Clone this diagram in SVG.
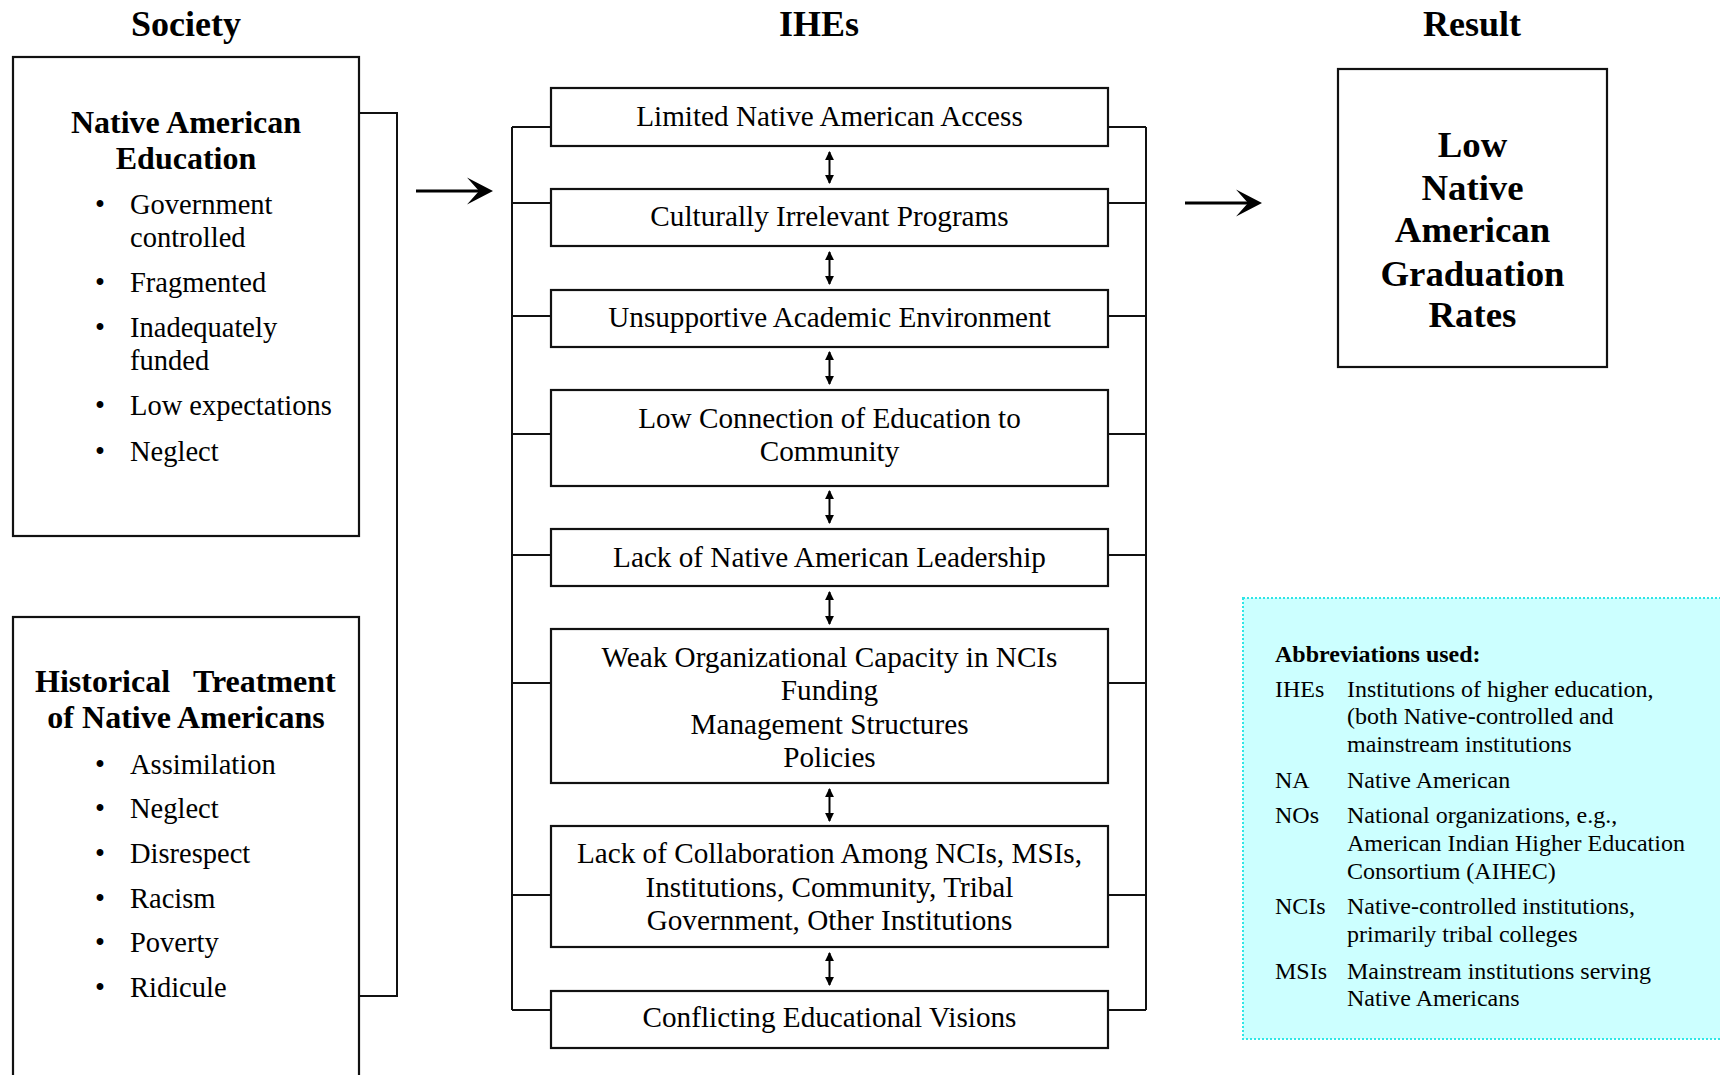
<svg xmlns="http://www.w3.org/2000/svg" width="1720" height="1075" viewBox="0 0 1720 1075">
<defs>
<style>
text{font-family:"Liberation Serif","Times New Roman",serif;fill:#000}
.title{font-size:36px;font-weight:bold;text-anchor:middle}
.hd{font-size:32px;font-weight:bold;text-anchor:middle}
.it{font-size:28.5px}
.bul{font-size:28.5px;text-anchor:middle}
.ct{font-size:29.2px;text-anchor:middle}
.res{font-size:36.8px;font-weight:bold;text-anchor:middle}
.ab{font-size:24px}
.abh{font-size:24px;font-weight:bold}
.box{fill:#fff;stroke:#111;stroke-width:2.2}
.ln{fill:none;stroke:#111;stroke-width:2}
.big{stroke:#000;stroke-width:3}
.dbl{stroke:#000;stroke-width:2}
</style>
<marker id="ah" viewBox="0 0 10 10" refX="9" refY="5" markerWidth="9" markerHeight="9" markerUnits="userSpaceOnUse" orient="auto-start-reverse">
<path d="M0,0 L10,5 L0,10 Z" fill="#000"/>
</marker>
</defs>
<rect width="1720" height="1075" fill="#fff"/>

<text class="title" x="186" y="36">Society</text>
<text class="title" x="819" y="36">IHEs</text>
<text class="title" x="1472" y="36">Result</text>

<g id="connectors">
<polyline class="ln" points="359,113 397,113 397,996 359,996"/>
<path class="ln" d="M512,127 V1010 M512,127 H551 M512,203 H551 M512,316 H551 M512,434 H551 M512,555 H551 M512,683 H551 M512,895 H551 M512,1010 H551"/>
<path class="ln" d="M1146,127 V1010 M1108,127 H1146 M1108,203 H1146 M1108,316 H1146 M1108,434 H1146 M1108,555 H1146 M1108,683 H1146 M1108,895 H1146 M1108,1010 H1146"/>
<line class="big" x1="416" y1="191" x2="482" y2="191"/>
<path d="M493,191 L467,177.5 L479,191 L467,204.5 Z" fill="#000"/>
<line class="big" x1="1185" y1="203" x2="1251" y2="203"/>
<path d="M1262,203 L1236,189.5 L1248,203 L1236,216.5 Z" fill="#000"/>
<line class="dbl" x1="829.5" y1="152" x2="829.5" y2="183" marker-start="url(#ah)" marker-end="url(#ah)"/>
<line class="dbl" x1="829.5" y1="252" x2="829.5" y2="284" marker-start="url(#ah)" marker-end="url(#ah)"/>
<line class="dbl" x1="829.5" y1="352" x2="829.5" y2="384" marker-start="url(#ah)" marker-end="url(#ah)"/>
<line class="dbl" x1="829.5" y1="491" x2="829.5" y2="523" marker-start="url(#ah)" marker-end="url(#ah)"/>
<line class="dbl" x1="829.5" y1="592" x2="829.5" y2="624" marker-start="url(#ah)" marker-end="url(#ah)"/>
<line class="dbl" x1="829.5" y1="789" x2="829.5" y2="821" marker-start="url(#ah)" marker-end="url(#ah)"/>
<line class="dbl" x1="829.5" y1="953" x2="829.5" y2="985" marker-start="url(#ah)" marker-end="url(#ah)"/>
</g>

<g id="native-american-education">
<rect class="box" x="13" y="57" width="346" height="479"/>
<text class="hd" x="186" y="133">Native American</text>
<text class="hd" x="186" y="169">Education</text>
<text class="bul" x="100" y="214">•</text><text class="it" x="130" y="214">Government</text>
<text class="it" x="130" y="247">controlled</text>
<text class="bul" x="100" y="292">•</text><text class="it" x="130" y="292">Fragmented</text>
<text class="bul" x="100" y="337">•</text><text class="it" x="130" y="337">Inadequately</text>
<text class="it" x="130" y="370">funded</text>
<text class="bul" x="100" y="415">•</text><text class="it" x="130" y="415">Low expectations</text>
<text class="bul" x="100" y="461">•</text><text class="it" x="130" y="461">Neglect</text>
</g>

<g id="historical-treatment">
<rect class="box" x="13" y="617" width="346" height="480"/>
<text class="hd" style="text-anchor:start" y="692"><tspan x="35">Historical</tspan><tspan x="193">Treatment</tspan></text>
<text class="hd" x="186" y="728">of Native Americans</text>
<text class="bul" x="100" y="774">•</text><text class="it" x="130" y="774">Assimilation</text>
<text class="bul" x="100" y="818">•</text><text class="it" x="130" y="818">Neglect</text>
<text class="bul" x="100" y="863">•</text><text class="it" x="130" y="863">Disrespect</text>
<text class="bul" x="100" y="908">•</text><text class="it" x="130" y="908">Racism</text>
<text class="bul" x="100" y="952">•</text><text class="it" x="130" y="952">Poverty</text>
<text class="bul" x="100" y="997">•</text><text class="it" x="130" y="997">Ridicule</text>
</g>

<g id="limited-access">
<rect class="box" x="551" y="88" width="557" height="58"/>
<text class="ct" x="829.5" y="126">Limited Native American Access</text>
</g>
<g id="culturally-irrelevant">
<rect class="box" x="551" y="189" width="557" height="57"/>
<text class="ct" x="829.5" y="226">Culturally Irrelevant Programs</text>
</g>
<g id="unsupportive">
<rect class="box" x="551" y="290" width="557" height="57"/>
<text class="ct" x="829.5" y="327">Unsupportive Academic Environment</text>
</g>
<g id="low-connection">
<rect class="box" x="551" y="390" width="557" height="96"/>
<text class="ct" x="829.5" y="428">Low Connection of Education to</text>
<text class="ct" x="829.5" y="461">Community</text>
</g>
<g id="leadership">
<rect class="box" x="551" y="529" width="557" height="57"/>
<text class="ct" x="829.5" y="567">Lack of Native American Leadership</text>
</g>
<g id="weak-capacity">
<rect class="box" x="551" y="629" width="557" height="154"/>
<text class="ct" x="829.5" y="667">Weak Organizational Capacity in NCIs</text>
<text class="ct" x="829.5" y="700">Funding</text>
<text class="ct" x="829.5" y="734">Management Structures</text>
<text class="ct" x="829.5" y="767">Policies</text>
</g>
<g id="collaboration">
<rect class="box" x="551" y="826" width="557" height="121"/>
<text class="ct" x="829.5" y="863">Lack of Collaboration Among NCIs, MSIs,</text>
<text class="ct" x="829.5" y="897">Institutions, Community, Tribal</text>
<text class="ct" x="829.5" y="930">Government, Other Institutions</text>
</g>
<g id="conflicting">
<rect class="box" x="551" y="991" width="557" height="57"/>
<text class="ct" x="829.5" y="1027">Conflicting Educational Visions</text>
</g>

<g id="result">
<rect class="box" x="1338" y="69" width="269" height="298"/>
<text class="res" x="1472.5" y="157">Low</text>
<text class="res" x="1472.5" y="200">Native</text>
<text class="res" x="1472.5" y="242">American</text>
<text class="res" x="1472.5" y="286">Graduation</text>
<text class="res" x="1472.5" y="327">Rates</text>
</g>

<g id="abbreviations">
<rect x="1243" y="598" width="490" height="441" fill="#ccffff" stroke="#2ee6e6" stroke-width="2" stroke-dasharray="2 2"/>
<text class="abh" x="1275" y="662">Abbreviations used:</text>
<text class="ab" x="1275" y="697">IHEs</text><text class="ab" x="1347" y="697">Institutions of higher education,</text>
<text class="ab" x="1347" y="724">(both Native-controlled and</text>
<text class="ab" x="1347" y="752">mainstream institutions</text>
<text class="ab" x="1275" y="788">NA</text><text class="ab" x="1347" y="788">Native American</text>
<text class="ab" x="1275" y="823">NOs</text><text class="ab" x="1347" y="823">National organizations, e.g.,</text>
<text class="ab" x="1347" y="851">American Indian Higher Education</text>
<text class="ab" x="1347" y="879">Consortium (AIHEC)</text>
<text class="ab" x="1275" y="914">NCIs</text><text class="ab" x="1347" y="914">Native-controlled institutions,</text>
<text class="ab" x="1347" y="942">primarily tribal colleges</text>
<text class="ab" x="1275" y="979">MSIs</text><text class="ab" x="1347" y="979">Mainstream institutions serving</text>
<text class="ab" x="1347" y="1006">Native Americans</text>
</g>
</svg>
